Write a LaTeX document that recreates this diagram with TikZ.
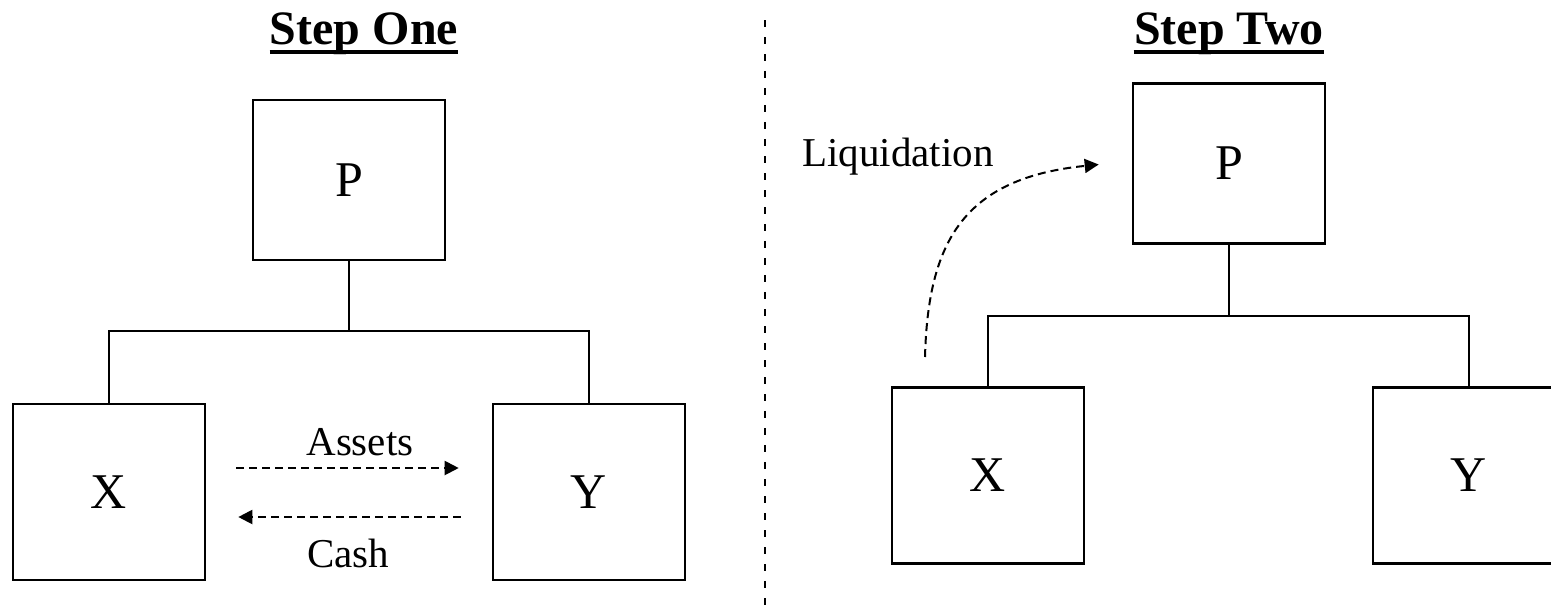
\documentclass[tikz,border=0pt]{standalone}
\usepackage{fontspec}
\setmainfont{Liberation Serif}
\usetikzlibrary{arrows.meta, calc}

\begin{document}
\begin{tikzpicture}[
  x=0.5pt, y=-0.5pt,
  entity/.style={draw, line width=1.3pt, minimum width=96pt, minimum height=88pt,
                 inner sep=0pt, font=\fontsize{25}{30}\selectfont},
  heading/.style={inner sep=0pt, anchor=base, font=\fontsize{24}{29}\selectfont\bfseries},
  tag/.style={inner sep=0pt, anchor=base west, font=\fontsize{20.5}{25}\selectfont},
  link/.style={line width=1.2pt},
  flow/.style={-{Triangle[length=7pt, width=7pt]}, line width=1pt,
               dash pattern=on 4pt off 2.5pt},
  divider/.style={line width=1pt, dash pattern=on 3.5pt off 5pt}
]
\useasboundingbox (0,0) rectangle (1551,611);
\clip (0,0) rectangle (1551,611);

\node[heading] (title1) at (364,44) {Step One};
\draw[line width=2pt] ([yshift=-4pt]title1.base west) -- ([yshift=-4pt]title1.base east);
\node[entity, minimum height=80pt] (P1) at (349,180) {P};
\node[entity] (X1) at (109,492) {X};
\node[entity] (Y1) at (589,492) {Y};
\coordinate (bus1) at (349,331);
\draw[link] (P1.south) -- (bus1);
\draw[link] (X1.north) |- (bus1) -| (Y1.north);
\draw[flow] ([shift={(30,-24)}]X1.east) -- ([shift={(-33,-24)}]Y1.west);
\draw[flow] ([shift={(-31,25)}]Y1.west) -- ([shift={(32,25)}]X1.east);
\node[tag] (assets) at (306,455) {Assets};
\node[tag] (cash) at (307,567) {Cash};

\coordinate (cuttop) at (765,20);
\coordinate (cutbot) at (765,611);
\draw[divider] (cuttop) -- (cutbot);

\node[heading] (title2) at (1229,44) {Step Two};
\draw[line width=2pt] ([yshift=-4pt]title2.base west) -- ([yshift=-4pt]title2.base east);
\node[entity, minimum height=80pt] (P2) at (1229,163.5) {P};
\node[entity] (X2) at (988,475.5) {X};
\node[entity] (Y2) at (1469,475.5) {Y};
\coordinate (bus2) at (1229,316);
\draw[link] (P2.south) -- (bus2);
\draw[link] (X2.north) |- (bus2) -| (Y2.north);
\node[tag] (liq) at (802,166) {Liquidation};
\coordinate (liqstart) at (925,357);
\draw[flow] (liqstart) .. controls (928,240) and (965,178) .. ([shift={(-33,1)}]P2.west);
\end{tikzpicture}
\end{document}
